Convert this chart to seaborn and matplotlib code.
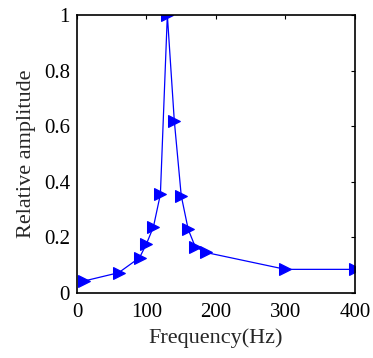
import matplotlib
matplotlib.use("Agg")
import matplotlib.pyplot as plt
import seaborn as sns
import pandas as pd

freq = [10, 60, 90, 100, 110, 120, 130, 140, 150, 160, 170, 185, 300, 400]
amp = [0.043, 0.073, 0.127, 0.177, 0.238, 0.355, 1.0, 0.62, 0.35, 0.229, 0.167, 0.146, 0.085, 0.085]
xticks = [0, 100, 200, 300, 400]
yticks = [0, 0.2, 0.4, 0.6, 0.8, 1]
yticklabels = ["0", "0.2", "0.4", "0.6", "0.8", "1"]

sns.set_style("white")
plt.rcParams['font.family'] = ['Liberation Serif', 'DejaVu Serif']

df = pd.DataFrame({"Frequency": freq, "Amplitude": amp})

fig = plt.figure(figsize=(3.73, 3.58), dpi=100)
ax = fig.add_axes([0.2064, 0.1816, 0.7453, 0.7765])
sns.lineplot(data=df, x="Frequency", y="Amplitude", ax=ax, color="#0000ff",
             marker=">", markersize=8, markeredgecolor="#0000ff", linewidth=0.9,
             sort=False)
ax.set_xlim(0, 400)
ax.set_ylim(0, 1)
ax.set_xticks(xticks)
ax.set_yticks(yticks)
ax.set_yticklabels(yticklabels)
ax.tick_params(direction="in", length=3, width=0.8, top=True, right=True,
               labelsize=15, colors="black")
ax.tick_params(axis="x", pad=7)
ax.tick_params(axis="y", pad=5)
for s in ax.spines.values():
    s.set_color("black")
    s.set_linewidth(1.2)
ax.set_xlabel("Frequency(Hz)", fontsize=16, labelpad=5)
ax.set_ylabel("Relative amplitude", fontsize=16, labelpad=6)
fig.savefig("out.png", dpi=100)
